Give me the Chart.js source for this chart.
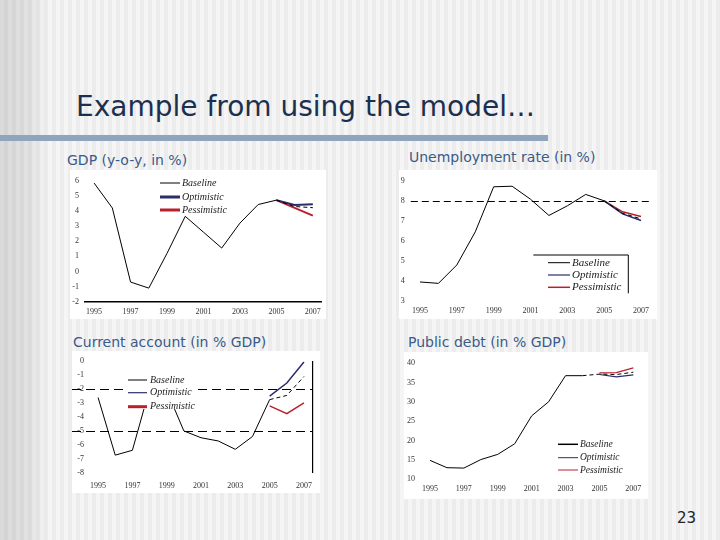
<!DOCTYPE html>
<html><head><meta charset="utf-8">
<script src="https://cdn.jsdelivr.net/npm/chart.js@4"></script>
<style>
html,body{margin:0;padding:0;}
body{width:720px;height:540px;position:relative;overflow:hidden;font-family:"DejaVu Sans";
 background:
  linear-gradient(90deg, rgba(0,0,0,0.11) 0px, rgba(0,0,0,0.08) 28px, rgba(0,0,0,0.0) 48px),
  repeating-linear-gradient(90deg,#f5f5f5 0 4px,#ececec 4px 8px);}
.title{position:absolute;left:76px;top:93px;font-size:28px;line-height:28px;color:#1b3050;white-space:nowrap;}
.bar{position:absolute;left:0;top:135px;width:548px;height:6px;background:#8fa4bd;}
.sub{position:absolute;font-size:14px;line-height:14px;color:#3a5a8a;white-space:nowrap;}
.box{position:absolute;background:#fff;}
.box canvas{display:block;}
.pg{position:absolute;left:677px;top:511px;font-size:15px;line-height:15px;color:#222;}
</style></head>
<body>
<div class="title">Example from using the model…</div>
<div class="bar"></div>
<div class="sub" style="left:67px;top:153px;">GDP (y-o-y, in %)</div>
<div class="sub" style="left:409px;top:150px;">Unemployment rate (in %)</div>
<div class="sub" style="left:73px;top:335px;">Current account (in % GDP)</div>
<div class="sub" style="left:408px;top:335px;">Public debt (in % GDP)</div>
<div class="box" style="left:70px;top:170px;width:256px;height:149px;"><canvas id="gdp" width="256" height="149"></canvas></div>
<div class="box" style="left:399px;top:170px;width:258px;height:149px;"><canvas id="unemp" width="258" height="149"></canvas></div>
<div class="box" style="left:72px;top:351px;width:248px;height:142px;"><canvas id="ca" width="248" height="142"></canvas></div>
<div class="box" style="left:404px;top:352px;width:244px;height:147px;"><canvas id="pd" width="244" height="147"></canvas></div>
<div class="pg">23</div>
<script>
const years = ['1995','1996','1997','1998','1999','2000','2001','2002','2003','2004','2005','2006','2007'];
const labeledYears = ['1995','1997','1999','2001','2003','2005','2007'];
const seriesNames = ['Baseline','Optimistic','Pessimistic'];

const gdpBaseline    = [5.85, 4.2, -0.7, -1.1, 1.2, 3.65, 2.6, 1.55, 3.2, 4.43, 4.72, 4.3, 4.22];
const gdpOptimistic  = [null,null,null,null,null,null,null,null,null,null, 4.72, 4.4, 4.45];
const gdpPessimistic = [null,null,null,null,null,null,null,null,null,null, 4.72, 4.21, 3.7];
const gdpYTicks = [-2,-1,0,1,2,3,4,5,6];

const unempBaseline    = [3.95, 3.88, 4.8, 6.45, 8.7, 8.73, 8.08, 7.27, 7.75, 8.32, 8.0, 7.38, 7.1];
const unempOptimistic  = [null,null,null,null,null,null,null,null,null,null, 8.0, 7.35, 7.02];
const unempPessimistic = [null,null,null,null,null,null,null,null,null,null, 8.0, 7.45, 7.22];
const unempYTicks = [3,4,5,6,7,8,9];
const unempRefLines = [8];

const caBaseline    = [-2.6, -6.74, -6.39, -2.0, -2.1, -5.0, -5.49, -5.72, -6.32, -5.4, -2.75, -2.45, -1.09];
const caOptimistic  = [null,null,null,null,null,null,null,null,null,null, -2.5, -1.56, -0.05];
const caPessimistic = [null,null,null,null,null,null,null,null,null,null, -3.2, -3.76, -2.98];
const caYTicks = [-8,-7,-6,-5,-4,-3,-2,-1,0];
const caRefLines = [-2,-5];

const pdBaseline    = [14.9, 13.0, 12.9, 15.1, 16.45, 19.2, 26.4, 30.05, 36.8, 36.8, 37.2, 37.1, 37.7];
const pdOptimistic  = [null,null,null,null,null,null,null,null,null,null, 37.1, 36.5, 37.0];
const pdPessimistic = [null,null,null,null,null,null,null,null,null,null, 37.5, 37.6, 38.8];
const pdYTicks = [10,15,20,25,30,35,40];

const NAVY = '#2c2c6c';
const RED = '#b8202c';

const legendPlugin = {
  id: 'slideLegend',
  afterDraw(chart, args, o) {
    if (!o || !o.ys) return;
    const c = chart.ctx;
    c.save();
    if (o.fill) { c.fillStyle = '#fff'; c.fillRect(o.fill[0], o.fill[1], o.fill[2], o.fill[3]); }
    if (o.frame) {
      c.strokeStyle = '#000'; c.lineWidth = 1; c.setLineDash([]);
      c.beginPath(); c.moveTo(o.frame[0], o.frame[1]); c.lineTo(o.frame[2], o.frame[1]); c.lineTo(o.frame[2], o.frame[3]); c.stroke();
    }
    chart.data.datasets.forEach((ds, i) => {
      const y = o.ys[i];
      c.setLineDash([]);
      c.strokeStyle = ds.borderColor; c.lineWidth = o.widths[i];
      c.beginPath(); c.moveTo(o.x1, y); c.lineTo(o.x2, y); c.stroke();
      c.fillStyle = '#222';
      c.font = 'italic ' + o.size + 'px "Liberation Serif"';
      c.textBaseline = 'middle'; c.textAlign = 'left';
      c.fillText(ds.label, o.tx, y);
    });
    c.restore();
  }
};

const refPlugin = {
  id: 'refLines',
  beforeDatasetsDraw(chart, args, o) {
    if (!o || !o.values) return;
    const ys = chart.scales.y, c = chart.ctx, a = chart.chartArea;
    c.save();
    c.strokeStyle = '#000'; c.lineWidth = o.width; c.setLineDash(o.dash);
    o.values.forEach(v => {
      const py = Math.round(ys.getPixelForValue(v)) + 0.5;
      c.beginPath(); c.moveTo(o.fromEdge ? 0 : a.left, py); c.lineTo(a.right, py); c.stroke();
    });
    c.restore();
  }
};

function build(id, o) {
  const tickFont = {family: 'Liberation Serif', size: 8};
  const scales = {
    x: {
      type: 'category', offset: true,
      grid: {display: false, drawTicks: false},
      border: {display: !!o.xBorder, color: '#000', width: 1.5},
      ticks: {autoSkip: false, maxRotation: 0, minRotation: 0, padding: o.xPad, color: '#333', font: tickFont,
        callback: function(v) { const l = this.getLabelForValue(v); return labeledYears.includes(l) ? l : ''; }},
      afterFit: s => { s.height = o.xH; }
    },
    y: {
      min: o.yTicks[0], max: o.yTicks[o.yTicks.length - 1],
      grid: {display: false, drawTicks: false},
      border: {display: false},
      ticks: {padding: o.yPad, color: '#333', font: tickFont},
      afterBuildTicks: s => { s.ticks = o.yTicks.map(v => ({value: v})); },
      afterFit: s => { s.width = o.yW; }
    }
  };
  if (o.rightBorder) {
    scales.y2 = {
      position: 'right', min: o.yTicks[0], max: o.yTicks[o.yTicks.length - 1],
      grid: {display: false, drawTicks: false},
      border: {display: true, color: '#000', width: 1.2},
      ticks: {display: false},
      afterFit: s => { s.width = 0; }
    };
  }
  return new Chart(document.getElementById(id), {
    type: 'line',
    data: {
      labels: years,
      datasets: [
        {label: seriesNames[0], data: o.base, borderColor: '#000', borderWidth: 1, pointRadius: 0, tension: 0,
          segment: {borderDash: ctx => ctx.p0DataIndex >= o.dashFrom ? [4, 3] : undefined}},
        {label: seriesNames[1], data: o.opt, borderColor: NAVY, borderWidth: o.optW, pointRadius: 0, tension: 0},
        {label: seriesNames[2], data: o.pes, borderColor: RED, borderWidth: o.pesW, pointRadius: 0, tension: 0}
      ]
    },
    options: {
      responsive: false, animation: false, events: [],
      layout: {padding: {left: 0, top: o.padTop, right: o.padRight, bottom: 0}},
      scales: scales,
      plugins: {
        legend: {display: false}, tooltip: {enabled: false},
        slideLegend: o.legend,
        refLines: o.ref || {}
      }
    },
    plugins: [refPlugin, legendPlugin]
  });
}

build('gdp', {
  base: gdpBaseline, opt: gdpOptimistic, pes: gdpPessimistic, yTicks: gdpYTicks, dashFrom: 10,
  optW: 2, pesW: 2, xBorder: true,
  padTop: 6.7, padRight: 4, yW: 15, xH: 17.3, xPad: 5, yPad: 6,
  legend: {x1: 90, x2: 110, tx: 112, ys: [13, 27, 40], widths: [1, 3, 3], size: 10}
});

build('unemp', {
  base: unempBaseline, opt: unempOptimistic, pes: unempPessimistic, yTicks: unempYTicks, dashFrom: 10,
  optW: 1.5, pesW: 1.5,
  padTop: 7.7, padRight: 6.8, yW: 11.8, xH: 18, xPad: 5.5, yPad: 6,
  ref: {values: unempRefLines, dash: [7, 4], width: 1.2},
  legend: {frame: [134.3, 85, 229.3, 123.3], x1: 149, x2: 171, tx: 173, ys: [92.7, 105, 117.3], widths: [1, 1.2, 1.5], size: 11}
});

build('ca', {
  base: caBaseline, opt: caOptimistic, pes: caPessimistic, yTicks: caYTicks, dashFrom: 10,
  optW: 1.5, pesW: 1.5, rightBorder: true,
  padTop: 9, padRight: 1.2, yW: 17.5, xH: 20.3, xPad: 8, yPad: 5.5,
  ref: {values: caRefLines, dash: [9, 5], width: 1.2, fromEdge: true},
  legend: {fill: [53, 24, 70, 34], x1: 56, x2: 75, tx: 78, ys: [29, 41.7, 55.7], widths: [1, 1.2, 3], size: 10}
});

build('pd', {
  base: pdBaseline, opt: pdOptimistic, pes: pdPessimistic, yTicks: pdYTicks, dashFrom: 9,
  optW: 1.2, pesW: 1.2,
  padTop: 9.7, padRight: 6.2, yW: 17.5, xH: 19.7, xPad: 4.5, yPad: 6.5,
  legend: {x1: 154, x2: 174, tx: 176, ys: [92.3, 105.7, 118], widths: [1.5, 1, 1], size: 9.5}
});
</script>
</body></html>
